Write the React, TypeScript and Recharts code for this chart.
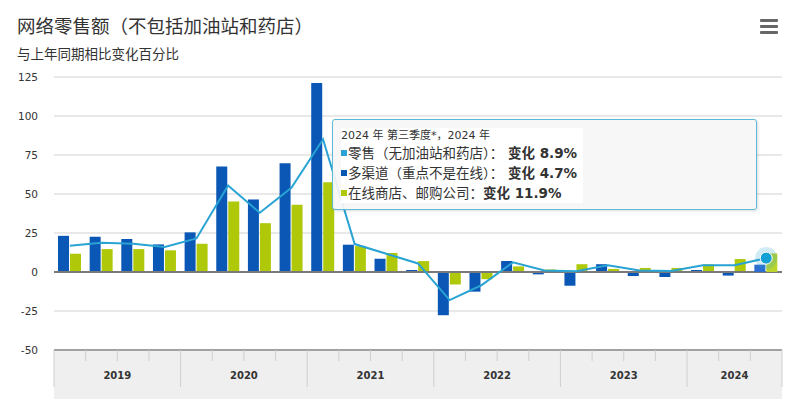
import React from 'react';
import {
    ComposedChart,
    Bar,
    Line,
    XAxis,
    YAxis,
    CartesianGrid,
    Tooltip,
    ReferenceLine,
} from 'recharts';

// quarters 2019 Q1 .. 2024 Q3
const years = ['2019', '2019', '2019', '2019', '2020', '2020', '2020', '2020', '2021', '2021', '2021', '2021', '2022', '2022', '2022', '2022', '2023', '2023', '2023', '2023', '2024', '2024', '2024'];
const quarters = ['Q1', 'Q2', 'Q3', 'Q4', 'Q1', 'Q2', 'Q3', 'Q4', 'Q1', 'Q2', 'Q3', 'Q4', 'Q1', 'Q2', 'Q3', 'Q4', 'Q1', 'Q2', 'Q3', 'Q4', 'Q1', 'Q2', 'Q3'];
const quarterNames: Record<string, string> = { Q1: '第一季度', Q2: '第二季度', Q3: '第三季度', Q4: '第四季度' };

// 零售（无加油站和药店）
const retail = [16.8, 18.8, 18.1, 16.0, 21.5, 55.4, 38.0, 54.0, 85.1, 17.9, 11.7, 5.5, -18.0, -8.5, 6.2, 1.0, 0.5, 4.3, 0.9, 0.6, 4.3, 4.3, 8.9];
// 多渠道（重点不是在线）
const multiChannel = [23.2, 22.6, 21.1, 17.7, 25.4, 67.6, 46.5, 69.7, 121.2, 17.5, 8.5, 1.3, -27.7, -12.6, 7.0, -1.5, -8.8, 5.0, -2.6, -3.2, 1.3, -2.3, 4.7];
// 在线商店、邮购公司
const online = [11.7, 14.7, 14.7, 13.9, 18.1, 45.2, 31.3, 43.1, 57.6, 16.6, 12.2, 7.0, -8.0, -4.6, 3.6, 1.6, 5.0, 2.0, 2.6, 2.6, 4.9, 8.3, 11.9];

const yTicks = [-50, -25, 0, 25, 50, 75, 100, 125];

const data = quarters.map((q, i) => ({
    key: `${years[i]} ${q}`,
    year: years[i],
    quarter: q,
    retail: retail[i],
    multiChannel: multiChannel[i],
    online: online[i],
}));

const WIDTH = 800;
const HEIGHT = 399;
const MARGIN = { top: 77, right: 18, bottom: 0, left: 0 };
const Y_AXIS_W = 54;
const X_AXIS_H = 49;
const AXIS_TOP = HEIGHT - MARGIN.bottom - X_AXIS_H;
const BAND = (WIDTH - MARGIN.left - MARGIN.right - Y_AXIS_W) / data.length;

const BLUE = '#0a57b5';
const GREEN = '#afc90a';
const LINE = '#29a3d3';
const FONT = '"DejaVu Sans", "Noto Sans CJK SC", sans-serif';
const CJK = '"Noto Sans CJK SC", sans-serif';

const YTick = (props: any) => {
    const { x, y, payload } = props;
    return (
        <text x={x} y={y} textAnchor="end" dominantBaseline="central" fontSize={10.5} fill="#333" fontFamily={FONT}>
            {payload.value}
        </text>
    );
};

const XTick = (props: any) => {
    const { x, index } = props;
    const yr = years[index];
    const first = index === 0 || years[index - 1] !== yr;
    const last = index === years.length - 1;
    const count = years.filter((v) => v === yr).length;
    const left = x - BAND / 2;
    return (
        <g>
            {first ? (
                <line x1={left} x2={left} y1={AXIS_TOP} y2={AXIS_TOP + 37} stroke="#cfcfcf" strokeWidth={1} />
            ) : (
                <line x1={left} x2={left} y1={AXIS_TOP} y2={AXIS_TOP + 11} stroke="#cfcfcf" strokeWidth={1} />
            )}
            {last && <line x1={x + BAND / 2} x2={x + BAND / 2} y1={AXIS_TOP} y2={AXIS_TOP + 37} stroke="#cfcfcf" strokeWidth={1} />}
            {first && (
                <text
                    x={x + ((count - 1) / 2) * BAND}
                    y={AXIS_TOP + 25}
                    textAnchor="middle"
                    dominantBaseline="central"
                    fontSize={10}
                    fontWeight="bold"
                    fill="#333"
                    fontFamily={FONT}
                >
                    {yr}
                </text>
            )}
        </g>
    );
};

const ActiveDot = (props: any) => {
    const { cx, cy } = props;
    return (
        <g>
            <circle cx={cx} cy={cy} r={11} fill={LINE} fillOpacity={0.22} />
            <circle cx={cx} cy={cy} r={6} fill="#13a0d4" stroke="#ffffff" strokeWidth={1} />
        </g>
    );
};

const Marker = ({ color }: { color: string }) => (
    <span style={{ display: 'inline-block', width: 6, height: 6, background: color, marginRight: 1, verticalAlign: 'middle', position: 'relative', top: -1 }} />
);

const TooltipBox = (props: any) => {
    const { active, payload } = props;
    if (!active || !payload || !payload.length) return null;
    const row = payload[0].payload;
    const val = (v: number) => `${v.toFixed(1)}%`;
    return (
        <div
            style={{
                width: 425,
                boxSizing: 'border-box',
                border: '1.5px solid #5cbcd8',
                borderRadius: 3,
                background: 'rgba(246,246,246,0.92)',
                boxShadow: '1px 1px 3px rgba(0,0,0,0.15)',
                padding: '8px 8px 6px 8px',
                color: '#333',
                fontFamily: FONT,
                whiteSpace: 'nowrap',
            }}
        >
            <div style={{ background: '#fff', display: 'inline-block', paddingRight: 6 }}>
                <div style={{ fontSize: 11, lineHeight: '15px' }}>
                    {row.year} 年 {quarterNames[row.quarter]}*，{row.year} 年
                </div>
                <div style={{ fontSize: 13.5, lineHeight: '19px' }}>
                    <Marker color={LINE} />
                    <span style={{ fontFamily: CJK }}>零售（无加油站和药店）：</span>
                    <b> 变化 {val(row.retail)}</b>
                </div>
                <div style={{ fontSize: 13.5, lineHeight: '19px' }}>
                    <Marker color={BLUE} />
                    <span style={{ fontFamily: CJK }}>多渠道（重点不是在线）：</span>
                    <b> 变化 {val(row.multiChannel)}</b>
                </div>
                <div style={{ fontSize: 13.5, lineHeight: '19px' }}>
                    <Marker color={GREEN} />
                    <span style={{ fontFamily: CJK }}>在线商店、邮购公司：</span>
                    <b>变化 {val(row.online)}</b>
                </div>
            </div>
        </div>
    );
};

const App: React.FC = () => {
    return (
        <div style={{ position: 'absolute', left: 0, top: 0, width: WIDTH, height: HEIGHT, background: '#fff', overflow: 'hidden' }}>
            {/* title */}
            <div style={{ position: 'absolute', left: 17, top: 12, fontSize: 18.5, lineHeight: '26px', color: '#333', fontFamily: CJK }}>
                网络零售额（不包括加油站和药店）
            </div>
            <div style={{ position: 'absolute', left: 17, top: 44, fontSize: 13.5, lineHeight: '18px', color: '#333', fontFamily: CJK }}>
                与上年同期相比变化百分比
            </div>
            {/* menu icon */}
            {[19, 25, 31].map((t) => (
                <div key={t} style={{ position: 'absolute', left: 760, top: t, width: 18, height: 3, borderRadius: 1, background: '#666' }} />
            ))}
            {/* x axis band */}
            <div
                style={{
                    position: 'absolute',
                    left: MARGIN.left + Y_AXIS_W,
                    top: AXIS_TOP,
                    width: WIDTH - MARGIN.left - MARGIN.right - Y_AXIS_W,
                    height: X_AXIS_H,
                    background: '#efefef',
                }}
            />
            <div style={{ position: 'absolute', left: 0, top: 0 }}>
                <ComposedChart
                    width={WIDTH}
                    height={HEIGHT}
                    data={data}
                    margin={MARGIN}
                    barSize={11}
                    barGap={1}
                    style={{ fontFamily: FONT }}
                >
                    <CartesianGrid vertical={false} stroke="#e8e8e8" strokeWidth={2} />
                    <XAxis
                        dataKey="key"
                        height={X_AXIS_H}
                        interval={0}
                        tickLine={false}
                        axisLine={{ stroke: '#8a8a8a', strokeWidth: 1.5 }}
                        tick={<XTick />}
                    />
                    <YAxis
                        width={Y_AXIS_W}
                        domain={[-50, 125]}
                        ticks={yTicks}
                        axisLine={false}
                        tickLine={false}
                        tickMargin={10}
                        tick={<YTick />}
                    />
                    <Bar dataKey="multiChannel" fill={BLUE} activeBar={{ fill: '#2c6fd0' }} isAnimationActive={false} />
                    <Bar dataKey="online" fill={GREEN} activeBar={{ fill: '#bcd52c' }} isAnimationActive={false} />
                    <ReferenceLine y={0} stroke="#7a7a7a" strokeWidth={2} />
                    <Line
                        type="linear"
                        dataKey="retail"
                        stroke={LINE}
                        strokeWidth={2}
                        dot={false}
                        activeDot={<ActiveDot />}
                        isAnimationActive={false}
                    />
                    <Tooltip
                        content={<TooltipBox />}
                        defaultIndex={data.length - 1}
                        active={true}
                        cursor={false}
                        position={{ x: 332, y: 119 }}
                        isAnimationActive={false}
                        wrapperStyle={{ outline: 'none' }}
                    />
                </ComposedChart>
            </div>
        </div>
    );
};

export default App;
